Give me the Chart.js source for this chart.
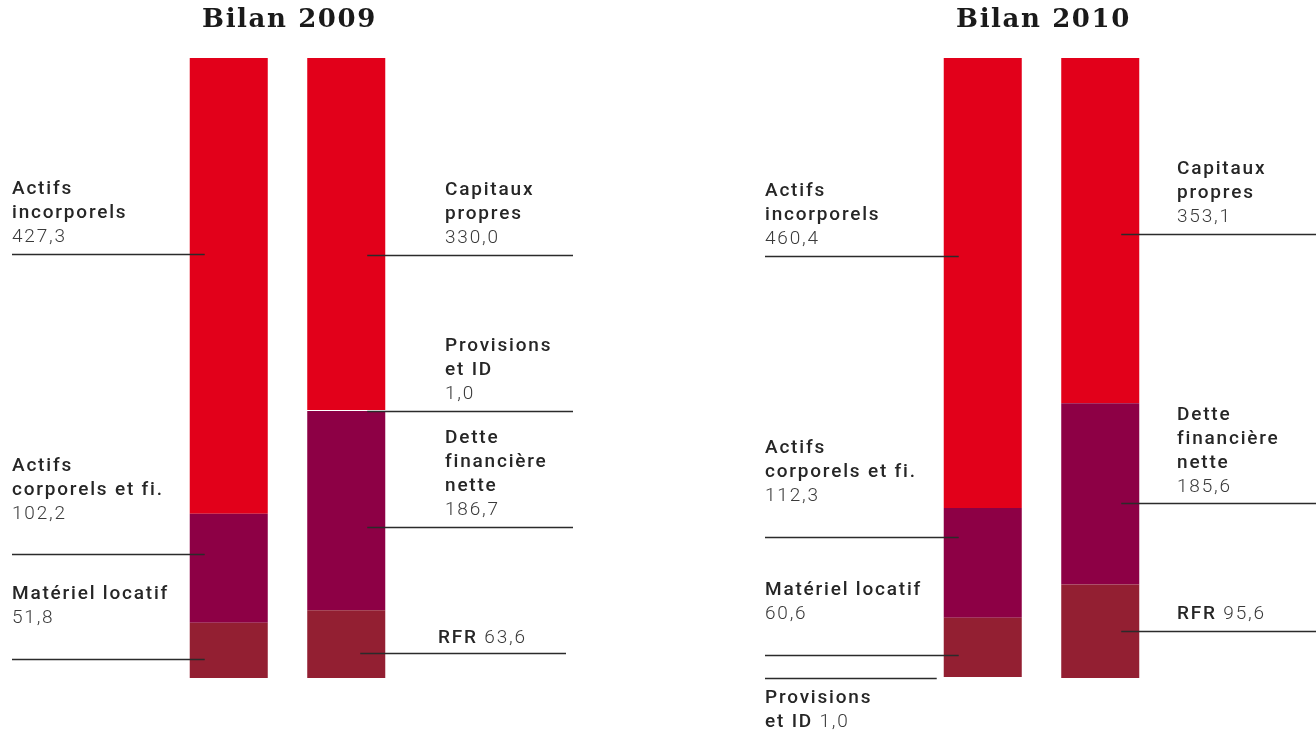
<!DOCTYPE html>
<html>
<head>
<meta charset="utf-8">
<script src="https://cdn.jsdelivr.net/npm/chart.js@4.4.1/dist/chart.umd.min.js"></script>
<style>
  html, body { margin: 0; padding: 0; background: #fff; }
  .wrap { position: absolute; top: 0; width: 658px; height: 733px; }
</style>
</head>
<body>
<div class="wrap" style="left:0"><canvas id="c2009"></canvas></div>
<div class="wrap" style="left:658px"><canvas id="c2010"></canvas></div>
<script>
// --- data (bottom to top of each bar) ---
const sides = ['Actif', 'Passif'];

const actif2009Items = ['Matériel locatif', 'Actifs corporels et fi.', 'Actifs incorporels'];
const actif2009Values = [51.8, 102.2, 427.3];
const passif2009Items = ['RFR', 'Dette financière nette', 'Provisions et ID', 'Capitaux propres'];
const passif2009Values = [63.6, 186.7, 1.0, 330.0];

const actif2010Items = ['Provisions et ID', 'Matériel locatif', 'Actifs corporels et fi.', 'Actifs incorporels'];
const actif2010Values = [1.0, 60.6, 112.3, 460.4];
const passif2010Items = ['RFR', 'Dette financière nette', 'Capitaux propres'];
const passif2010Values = [95.6, 185.6, 353.1];

const RED = '#e2001a';
const PURPLE = '#8d0045';
const DARK = '#931f32';
const itemColors = {
  'Actifs incorporels': RED,
  'Capitaux propres': RED,
  'Actifs corporels et fi.': PURPLE,
  'Dette financière nette': PURPLE,
  'Matériel locatif': DARK,
  'RFR': DARK,
  'Provisions et ID': '#ffffff'
};

// how each label is broken into lines (value appended)
const labelLines = {
  'Actifs incorporels': ['Actifs', 'incorporels'],
  'Actifs corporels et fi.': ['Actifs', 'corporels et fi.'],
  'Matériel locatif': ['Matériel locatif'],
  'Capitaux propres': ['Capitaux', 'propres'],
  'Provisions et ID': ['Provisions', 'et ID'],
  'Dette financière nette': ['Dette', 'financière', 'nette'],
  'RFR': ['RFR']
};

// label placement: frac = leader line position inside segment (from top),
// gap = distance from leader line up to last text line
const layout2009 = {
  textLeft: 12, textRight: 445, lineRightEnd: 573,
  actif: [
    { frac: 0.66, gap: 43 },
    { frac: 0.37, gap: 42 },
    { frac: 0.43, gap: 19 }
  ],
  passif: [
    { frac: 0.63, gap: 17, inline: true, dx: -7 },
    { frac: 0.58, gap: 19 },
    { frac: 0.5, gap: 19 },
    { frac: 0.56, gap: 19 }
  ]
};
const layout2010 = {
  textLeft: 107, textRight: 519, lineRightEnd: 658,
  actif: [
    { frac: 1.0, below: true, inline: true, stub: -7 },
    { frac: 0.63, gap: 43 },
    { frac: 0.26, gap: 43 },
    { frac: 0.44, gap: 19 }
  ],
  passif: [
    { frac: 0.5, gap: 19, inline: true },
    { frac: 0.55, gap: 18 },
    { frac: 0.51, gap: 19 }
  ]
};

const fmt = v => v.toFixed(1).replace('.', ',');
const NAME_FONT = '500 19px Roboto';
const VALUE_FONT = '300 19px Roboto';

function buildDatasets(aItems, aVals, pItems, pVals) {
  const ds = [];
  aItems.forEach((name, i) => ds.push({
    label: name, data: [aVals[i], null], side: 0, idx: i,
    backgroundColor: itemColors[name], stack: 's'
  }));
  pItems.forEach((name, i) => ds.push({
    label: name, data: [null, pVals[i]], side: 1, idx: i,
    backgroundColor: itemColors[name], stack: 's'
  }));
  return ds;
}

const labelPlugin = {
  id: 'bilanLabels',
  afterDraw(chart, args, opts) {
    const ctx = chart.ctx;
    const lay = opts.layout;
    const area = chart.chartArea;
    ctx.save();

    // title
    ctx.letterSpacing = '1.6px';
    ctx.font = 'bold 26px "DejaVu Serif"';
    ctx.fillStyle = '#1a1a1a';
    ctx.textAlign = 'center';
    ctx.textBaseline = 'middle';
    ctx.fillText(opts.title, (area.left + area.right) / 2 + 2, 20);

    ctx.textAlign = 'left';
    ctx.letterSpacing = '1.8px';
    chart.data.datasets.forEach((ds, di) => {
      const el = chart.getDatasetMeta(di).data[ds.side];
      const cfg = (ds.side === 0 ? lay.actif : lay.passif)[ds.idx];
      const top = el.y, bottom = el.base;
      const lineY = Math.round(top + cfg.frac * (bottom - top)) + 0.5;
      const left = el.x - el.width / 2;
      let tx, x1, x2;
      if (ds.side === 0) {
        tx = lay.textLeft;
        x1 = tx;
        x2 = left + (cfg.stub !== undefined ? cfg.stub : 15);
      } else {
        tx = lay.textRight + (cfg.dx || 0);
        x1 = left + 60 + (cfg.dx || 0);
        x2 = lay.lineRightEnd + (cfg.dx || 0);
      }
      ctx.strokeStyle = '#2b2b2b';
      ctx.lineWidth = 1.4;
      ctx.beginPath();
      ctx.moveTo(x1, lineY);
      ctx.lineTo(x2, lineY);
      ctx.stroke();

      const names = labelLines[ds.label];
      const value = fmt(ds.data[ds.side]);
      const rows = names.map(n => ({ name: n, value: null }));
      if (cfg.inline) rows[rows.length - 1].value = value;
      else rows.push({ name: null, value: value });

      const step = 24;
      rows.forEach((r, ri) => {
        let y;
        if (cfg.below) y = lineY + 20 + ri * step;
        else y = lineY - cfg.gap + 2 - (rows.length - 1 - ri) * step;
        let x = tx;
        if (r.name) {
          ctx.font = NAME_FONT;
          ctx.fillStyle = '#262626';
          ctx.fillText(r.name, x, y);
          x += ctx.measureText(r.name + ' ').width;
        }
        if (r.value) {
          ctx.font = VALUE_FONT;
          ctx.fillStyle = '#3a3a3a';
          ctx.fillText(r.value, x, y);
        }
      });
    });
    ctx.restore();
  }
};

function makeChart(id, title, datasets, total, layout, pad) {
  return new Chart(document.getElementById(id), {
    type: 'bar',
    data: { labels: sides, datasets: datasets },
    options: {
      responsive: true,
      maintainAspectRatio: false,
      animation: false,
      events: [],
      layout: { padding: { left: pad.left, right: pad.right, top: 58, bottom: 55 } },
      datasets: { bar: { barPercentage: 0.664, categoryPercentage: 1, borderWidth: 0 } },
      scales: {
        x: { stacked: true, display: false },
        y: { stacked: true, display: false, min: 0, max: total }
      },
      plugins: {
        legend: { display: false },
        tooltip: { enabled: false },
        title: { display: false },
        bilanLabels: { layout: layout, title: title }
      }
    },
    plugins: [labelPlugin]
  });
}

const sum = a => a.reduce((s, v) => s + v, 0);

makeChart('c2009', 'Bilan 2009',
  buildDatasets(actif2009Items, actif2009Values, passif2009Items, passif2009Values),
  sum(actif2009Values), layout2009, { left: 170, right: 253 });

makeChart('c2010', 'Bilan 2010',
  buildDatasets(actif2010Items, actif2010Values, passif2010Items, passif2010Values),
  sum(actif2010Values), layout2010, { left: 266, right: 157 });
</script>
</body>
</html>
